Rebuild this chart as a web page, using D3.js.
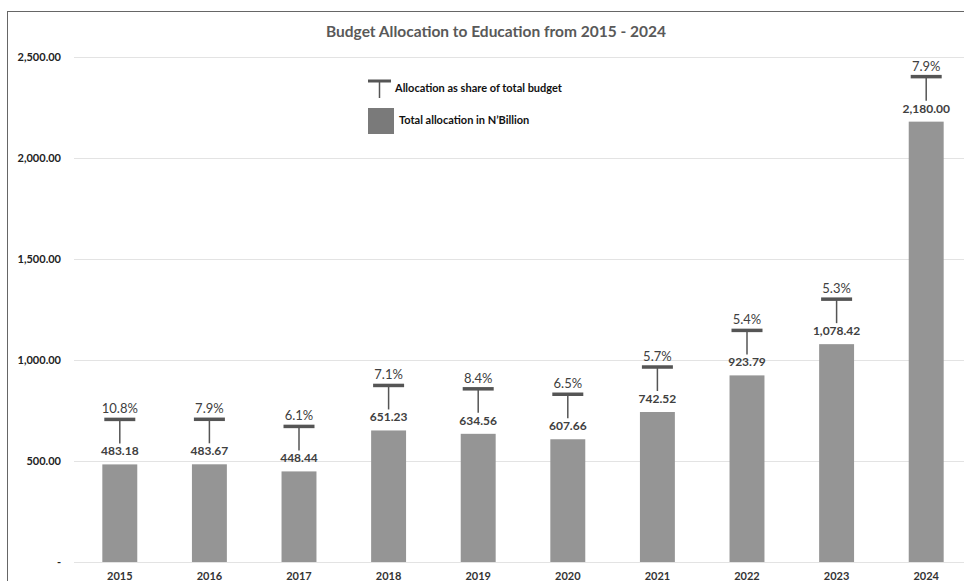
<!DOCTYPE html>
<html>
<head>
<meta charset="utf-8">
<script src="https://cdn.jsdelivr.net/npm/d3@7"></script>
<style>
  body { margin: 0; background: #fff; }
  svg { display: block; font-family: Lato, "Open Sans", sans-serif; }
</style>
</head>
<body>
<svg id="chart" width="964" height="581"></svg>
<script>
// data
const years = ["2015", "2016", "2017", "2018", "2019", "2020", "2021", "2022", "2023", "2024"];
const allocation = [483.18, 483.67, 448.44, 651.23, 634.56, 607.66, 742.52, 923.79, 1078.42, 2180.0];
const shareOfBudget = [10.8, 7.9, 6.1, 7.1, 8.4, 6.5, 5.7, 5.4, 5.3, 7.9];
const yTicks = [0, 500, 1000, 1500, 2000, 2500];

const width = 964;
const height = 581;
const margin = { top: 57, right: -7, bottom: 19, left: 75 };

const barColor = "#959595";
const markColor = "#555555";
const textColor = "#404040";

const svg = d3.select("#chart");

// outer frame
svg.append("rect")
  .attr("x", 7.5)
  .attr("y", 11.5)
  .attr("width", 1000)
  .attr("height", 1000)
  .attr("fill", "none")
  .attr("stroke", "#666")
  .attr("stroke-width", 1);

// title
svg.append("text")
  .attr("x", 496)
  .attr("y", 37)
  .attr("text-anchor", "middle")
  .attr("font-size", "15.5px")
  .attr("font-weight", "bold")
  .attr("fill", "#595959")
  .text("Budget Allocation to Education from 2015 - 2024");

const data = years.map((y, i) => ({ year: y, value: allocation[i], share: shareOfBudget[i] }));

// scales
const x = d3.scaleBand()
  .domain(years)
  .range([margin.left, width - margin.right])
  .paddingInner(0.61)
  .paddingOuter(0.305);

const y = d3.scaleLinear()
  .domain([0, 2500])
  .range([height - margin.bottom, margin.top]);

// y axis + gridlines
const yAxis = d3.axisLeft(y)
  .tickValues(yTicks)
  .tickSize(-(width - margin.left - margin.right))
  .tickPadding(13)
  .tickFormat(d => d === 0 ? "-" : d3.format(",.2f")(d));

const yG = svg.append("g")
  .attr("transform", `translate(${margin.left - 1}, 0)`)
  .call(yAxis);
yG.select(".domain").remove();
yG.selectAll(".tick line").attr("stroke", "#e3e3e3").attr("stroke-width", 1.2);
yG.selectAll(".tick text")
  .attr("font-size", "11px")
  .attr("font-weight", "bold")
  .attr("fill", "#222")
  .attr("font-family", "Lato, sans-serif");

// x axis
const xAxis = d3.axisBottom(x).tickSize(0).tickPadding(10);
const xG = svg.append("g")
  .attr("transform", `translate(0, ${height - margin.bottom})`)
  .call(xAxis);
xG.select(".domain").remove();
xG.selectAll(".tick text")
  .attr("font-size", "11px")
  .attr("font-weight", "bold")
  .attr("fill", "#333")
  .attr("font-family", "Lato, sans-serif");

// bars
svg.append("g")
  .selectAll("rect")
  .data(data)
  .join("rect")
  .attr("x", d => x(d.year))
  .attr("y", d => y(d.value))
  .attr("width", x.bandwidth())
  .attr("height", d => y(0) - y(d.value))
  .attr("fill", barColor);

// value labels
svg.append("g")
  .selectAll("text")
  .data(data)
  .join("text")
  .attr("x", d => x(d.year) + x.bandwidth() / 2)
  .attr("y", d => y(d.value) - 9)
  .attr("text-anchor", "middle")
  .attr("font-size", "12px")
  .attr("font-weight", "bold")
  .attr("fill", textColor)
  .text(d => d3.format(",.2f")(d.value));

// share markers (T shape) above each bar
const tOffset = 45;
const tWidth = 31;
const marks = svg.append("g")
  .selectAll("g")
  .data(data)
  .join("g")
  .attr("transform", d => `translate(${x(d.year) + x.bandwidth() / 2}, ${y(d.value) - tOffset})`);

marks.append("line")
  .attr("x1", 0).attr("x2", 0)
  .attr("y1", 0).attr("y2", 24)
  .attr("stroke", markColor)
  .attr("stroke-width", 1.5);

marks.append("line")
  .attr("x1", -tWidth / 2).attr("x2", tWidth / 2)
  .attr("y1", 0).attr("y2", 0)
  .attr("stroke", markColor)
  .attr("stroke-width", 3.5);

marks.append("text")
  .attr("y", -6)
  .attr("text-anchor", "middle")
  .attr("font-size", "13px")
  .attr("fill", textColor)
  .text(d => d.share + "%");

// legend
const legend = svg.append("g").attr("transform", "translate(368, 81)");
legend.append("line")
  .attr("x1", 0).attr("x2", 23)
  .attr("y1", 0).attr("y2", 0)
  .attr("stroke", markColor)
  .attr("stroke-width", 3);
legend.append("line")
  .attr("x1", 11.5).attr("x2", 11.5)
  .attr("y1", 0).attr("y2", 17)
  .attr("stroke", markColor)
  .attr("stroke-width", 1.5);
legend.append("text")
  .attr("x", 27)
  .attr("y", 11)
  .attr("font-size", "11px")
  .attr("font-weight", "bold")
  .attr("fill", "#111")
  .text("Allocation as share of total budget");

legend.append("rect")
  .attr("x", 0)
  .attr("y", 27)
  .attr("width", 26)
  .attr("height", 26)
  .attr("fill", "#7a7a7a");
legend.append("text")
  .attr("x", 31)
  .attr("y", 43)
  .attr("font-size", "11px")
  .attr("font-weight", "bold")
  .attr("fill", "#111")
  .text("Total allocation in N’Billion");
</script>
</body>
</html>
